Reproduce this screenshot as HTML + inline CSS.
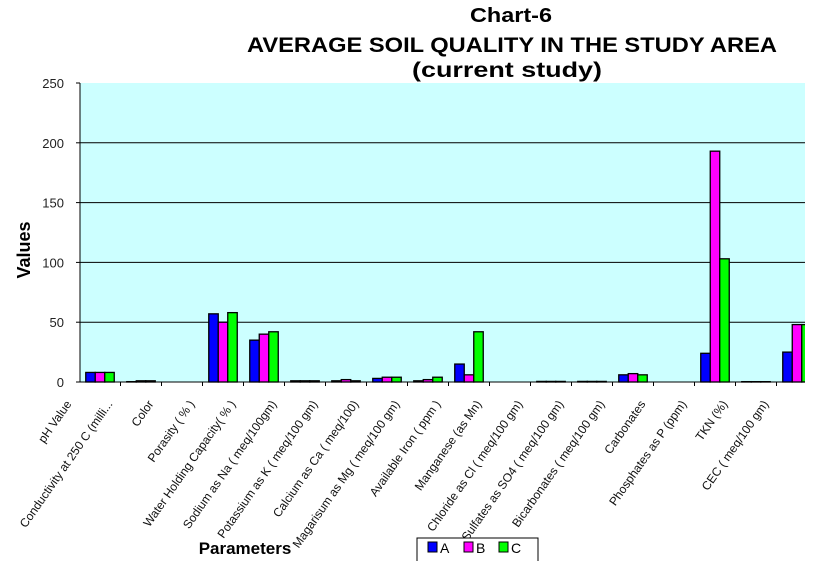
<!DOCTYPE html>
<html><head><meta charset="utf-8"><style>
body{margin:0;background:#fff;font-family:"Liberation Sans",Arial,sans-serif}
svg{display:block}
</style></head><body>
<svg id="c" width="815" height="561" viewBox="0 0 815 561">
<defs><clipPath id="pc"><rect x="80" y="83" width="725" height="300"/></clipPath></defs>
<text x="511" y="22" text-anchor="middle" font-size="20" font-weight="bold" textLength="82" lengthAdjust="spacingAndGlyphs">Chart-6</text>
<text x="512" y="52" text-anchor="middle" font-size="21" font-weight="bold" textLength="530" lengthAdjust="spacingAndGlyphs">AVERAGE SOIL QUALITY IN THE STUDY AREA</text>
<text x="507" y="77" text-anchor="middle" font-size="21" font-weight="bold" textLength="190" lengthAdjust="spacingAndGlyphs">(current study)</text>
<rect x="80" y="83" width="725" height="299" fill="#ccffff"/>
<g id="grid"></g><g id="bars" clip-path="url(#pc)"></g><g id="xl"></g>
<line x1="80" y1="83" x2="80" y2="382" stroke="#000"/>
<line x1="80" y1="382" x2="805" y2="382" stroke="#000"/>
<text transform="translate(30,250) rotate(-90)" text-anchor="middle" font-size="18" font-weight="bold">Values</text>
<text x="245" y="554" text-anchor="middle" font-size="17" font-weight="bold">Parameters</text>
<g>
<rect x="417" y="538" width="121" height="30" fill="#fff" stroke="#000"/>
<g><rect x="428" y="542" width="9" height="10" fill="#0000ff" stroke="#000"/><text x="440" y="553" font-size="14">A</text></g>
<g><rect x="464" y="542" width="9" height="10" fill="#ff00ff" stroke="#000"/><text x="476" y="553" font-size="14">B</text></g>
<g><rect x="499" y="542" width="9" height="10" fill="#00ff00" stroke="#000"/><text x="511" y="553" font-size="14">C</text></g>
</g>
</svg>
<script>
const categories=["pH Value","Conductivity at 250 C (milli...","Color","Porasity ( % )","Water Holding Capacity( % )","Sodium as Na  ( meq/100gm)","Potassium as K  ( meq/100 gm)","Calcium as Ca ( meq/100)","Magarisum as Mg  ( meq/100 gm)","Available  Iron ( ppm )","Manganese (as Mn)","Chloride as Cl  ( meq/100 gm)","Sulfates as SO4    ( meq/100 gm)","Bicarbonates ( meq/100 gm)","Carbonates","Phosphates as P  (ppm)","TKN (%)","CEC  ( meq/100 gm)"];
const seriesA=[8,0.3,0,57,35,1,1,3,1,15,0,0.5,0.5,6,0,24,0.3,25];
const seriesB=[8,1,0,50,40,1,2,4,2,6,0,0.5,0.5,7,0,193,0.3,48];
const seriesC=[8,1,0,58,42,1,1,4,4,42,0,0.5,0.5,6,0,103,0.3,48];
const yTicks=[0,50,100,150,200,250];
const NS="http://www.w3.org/2000/svg";
const X0=80,X1=805,Y0=382,Y1=83,YMAX=250;
const step=41;
const y=v=>Y0-(v/YMAX)*(Y0-Y1);
const cx=i=>X0+20+step*i;
function mk(t,a,p){const e=document.createElementNS(NS,t);for(const k in a)e.setAttribute(k,a[k]);p.appendChild(e);return e;}
const grid=document.getElementById('grid');
yTicks.forEach(v=>{
 if(v>0&&v<YMAX){const l=mk('line',{x1:X0,x2:X1,y1:y(v),y2:y(v),stroke:'#000'},grid);
 
 }
 const tk=mk('line',{x1:X0-4,x2:X0,y1:y(v),y2:y(v),stroke:'#000'},grid);
 
 
 const t=mk('text',{x:X0-16,y:y(v)+5,'text-anchor':'end','font-size':'13',fill:'#222'},grid);
 t.textContent=v;
 
 
});
const bars=document.getElementById('bars'),xl=document.getElementById('xl');
const series=[[seriesA,'#0000ff','a'],[seriesB,'#ff00ff','b'],[seriesC,'#00ff00','c']];
const bw=9.5;
categories.forEach((c,i)=>{
 series.forEach(([arr,col,nm],j)=>{
  const v=arr[i];if(v<=0)return;
  const r=mk('rect',{x:cx(i)+(j-1.5)*bw,y:y(v),width:bw,height:Y0-y(v),fill:col,stroke:'#000','stroke-width':1.3},bars);
  
  
 });
 const tk=mk('line',{x1:cx(i)+step/2,x2:cx(i)+step/2,y1:Y0,y2:Y0+4,stroke:'#000'},xl);
 
 
 const t=mk('text',{transform:`translate(${cx(i)-28},${Y0+22}) rotate(-55)`,'text-anchor':'end','font-size':'12',fill:'#111'},xl);
 t.textContent=c;
 
 
});
</script>
</body></html>
